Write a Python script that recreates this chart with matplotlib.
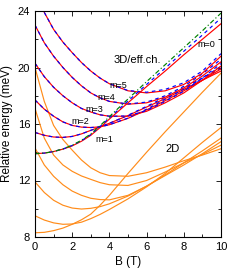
import matplotlib
matplotlib.use("Agg")
import matplotlib.pyplot as plt

plt.rcParams['font.family'] = ['Liberation Sans', 'DejaVu Sans']

B = [0, 0.5, 1, 1.5, 2, 2.5, 3, 3.5, 4, 5, 6, 7, 8, 9, 10]

# 3D / effective-channel model: red solid, blue dashed on top
red_m0 = [13.9, 13.94, 14.05, 14.22, 14.45, 14.78, 15.2, 15.75, 16.35, 17.5, 18.65, 19.75, 20.9, 22.0, 23.1]
red_m1 = [15.4, 15.2, 15.08, 15.05, 15.12, 15.3, 15.55, 15.8, 16.05, 16.6, 17.2, 17.8, 18.45, 19.1, 19.75]
red_m2 = [17.7, 17.05, 16.55, 16.15, 15.9, 15.78, 15.75, 15.8, 15.95, 16.4, 17.0, 17.65, 18.35, 19.1, 19.9]
red_m3 = [20.3, 19.35, 18.6, 18.0, 17.5, 17.1, 16.85, 16.65, 16.55, 16.55, 16.9, 17.5, 18.2, 19.1, 20.1]
red_m4 = [23.0, 21.75, 20.8, 20.0, 19.3, 18.7, 18.2, 17.85, 17.6, 17.4, 17.5, 17.9, 18.55, 19.4, 20.4]
red_m5 = [25.9, 23.9, 22.7, 21.8, 21.05, 20.35, 19.75, 19.25, 18.85, 18.35, 18.2, 18.35, 18.8, 19.6, 20.8]

blue_m0 = [13.9, 13.94, 14.05, 14.23, 14.48, 14.82, 15.25, 15.82, 16.43, 17.63, 18.8, 19.95, 21.15, 22.3, 23.5]
blue_m1 = [15.4, 15.2, 15.08, 15.05, 15.12, 15.3, 15.55, 15.8, 16.05, 16.62, 17.25, 17.9, 18.57, 19.25, 19.93]
blue_m2 = [17.7, 17.05, 16.55, 16.15, 15.9, 15.78, 15.75, 15.8, 15.95, 16.42, 17.05, 17.75, 18.47, 19.25, 20.08]
blue_m3 = [20.3, 19.35, 18.6, 18.0, 17.5, 17.1, 16.85, 16.65, 16.55, 16.57, 16.95, 17.6, 18.32, 19.25, 20.28]
blue_m4 = [23.0, 21.75, 20.8, 20.0, 19.3, 18.7, 18.2, 17.85, 17.6, 17.42, 17.55, 18.0, 18.67, 19.55, 20.58]
blue_m5 = [25.9, 23.9, 22.7, 21.8, 21.05, 20.35, 19.75, 19.25, 18.85, 18.37, 18.25, 18.45, 18.92, 19.75, 20.98]

green_m0 = [13.9, 13.94, 14.05, 14.24, 14.5, 14.85, 15.3, 15.88, 16.52, 17.77, 19.0, 20.2, 21.4, 22.6, 23.85]

# 2D model (orange)
or_m0 = [8.3, 8.33, 8.45, 8.63, 8.9, 9.22, 9.62, 10.25, 10.95, 12.5, 14.0, 15.45, 16.85, 18.25, 19.6]
or_m1 = [9.5, 9.2, 9.0, 8.9, 8.92, 9.05, 9.3, 9.6, 9.95, 10.7, 11.55, 12.5, 13.6, 14.7, 15.75]
or_m2 = [11.9, 11.15, 10.6, 10.25, 10.05, 9.98, 10.03, 10.15, 10.35, 10.9, 11.6, 12.4, 13.25, 14.1, 15.0]
or_m3 = [14.3, 13.1, 12.3, 11.7, 11.25, 10.95, 10.74, 10.65, 10.63, 10.95, 11.6, 12.35, 13.1, 13.9, 14.75]
or_m4 = [17.1, 15.0, 13.8, 13.1, 12.65, 12.32, 12.08, 11.85, 11.7, 11.65, 12.0, 12.6, 13.25, 13.85, 14.5]
or_m5 = [20.0, 17.6, 15.9, 14.9, 14.15, 13.45, 12.9, 12.55, 12.35, 12.3, 12.55, 12.95, 13.4, 13.8, 14.25]

fig = plt.figure(figsize=(2.44, 2.75), dpi=100)
ax = fig.add_axes([35/244, 1-237/275, 186/244, 226/275])

orange_c = '#ff8c1a'
lw = 0.85
for ys in (or_m0, or_m1, or_m2, or_m3, or_m4, or_m5):
    ax.plot(B, ys, color=orange_c, lw=lw)
for r, b in ((red_m1, blue_m1), (red_m2, blue_m2), (red_m3, blue_m3),
             (red_m4, blue_m4), (red_m5, blue_m5)):
    ax.plot(B, r, color='red', lw=lw)
    ax.plot(B, b, color='blue', lw=lw, dashes=(3, 3))
ax.plot(B, red_m0, color='red', lw=lw)
ax.plot(B, blue_m0, color='blue', lw=lw, dashes=(3, 3))
ax.plot(B, green_m0, color='green', lw=lw, dashes=(4, 2, 1, 2))

ax.set_xlim(0, 10)
ax.set_ylim(8, 24)
ax.set_xticks([0, 2, 4, 6, 8, 10])
ax.set_xticks([1, 3, 5, 7, 9], minor=True)
ax.set_yticks([8, 12, 16, 20, 24])
ax.set_yticks([10, 14, 18, 22], minor=True)
ax.tick_params(which='both', direction='in', top=True, right=True, labelsize=8, width=0.6)
ax.tick_params(which='major', length=3.5)
ax.tick_params(which='minor', length=2)
for s in ax.spines.values():
    s.set_linewidth(0.8)
ax.set_xlabel('B (T)', fontsize=8.5, labelpad=3)
ax.set_ylabel('Relative energy (meV)', fontsize=8.5, labelpad=3)

ax.text(5.5, 20.5, '3D/eff.ch.', fontsize=8, ha='center', va='center')
ax.text(9.2, 21.6, 'm=0', fontsize=6.5, ha='center', va='center')
ax.text(4.48, 18.76, 'm=5', fontsize=6.5, ha='center', va='center')
ax.text(3.85, 17.9, 'm=4', fontsize=6.5, ha='center', va='center')
ax.text(3.18, 17.04, 'm=3', fontsize=6.5, ha='center', va='center')
ax.text(2.42, 16.16, 'm=2', fontsize=6.5, ha='center', va='center')
ax.text(3.7, 14.92, 'm=1', fontsize=6.5, ha='center', va='center')
ax.text(7.37, 14.23, '2D', fontsize=8, ha='center', va='center')

fig.savefig('out.png', dpi=100)
